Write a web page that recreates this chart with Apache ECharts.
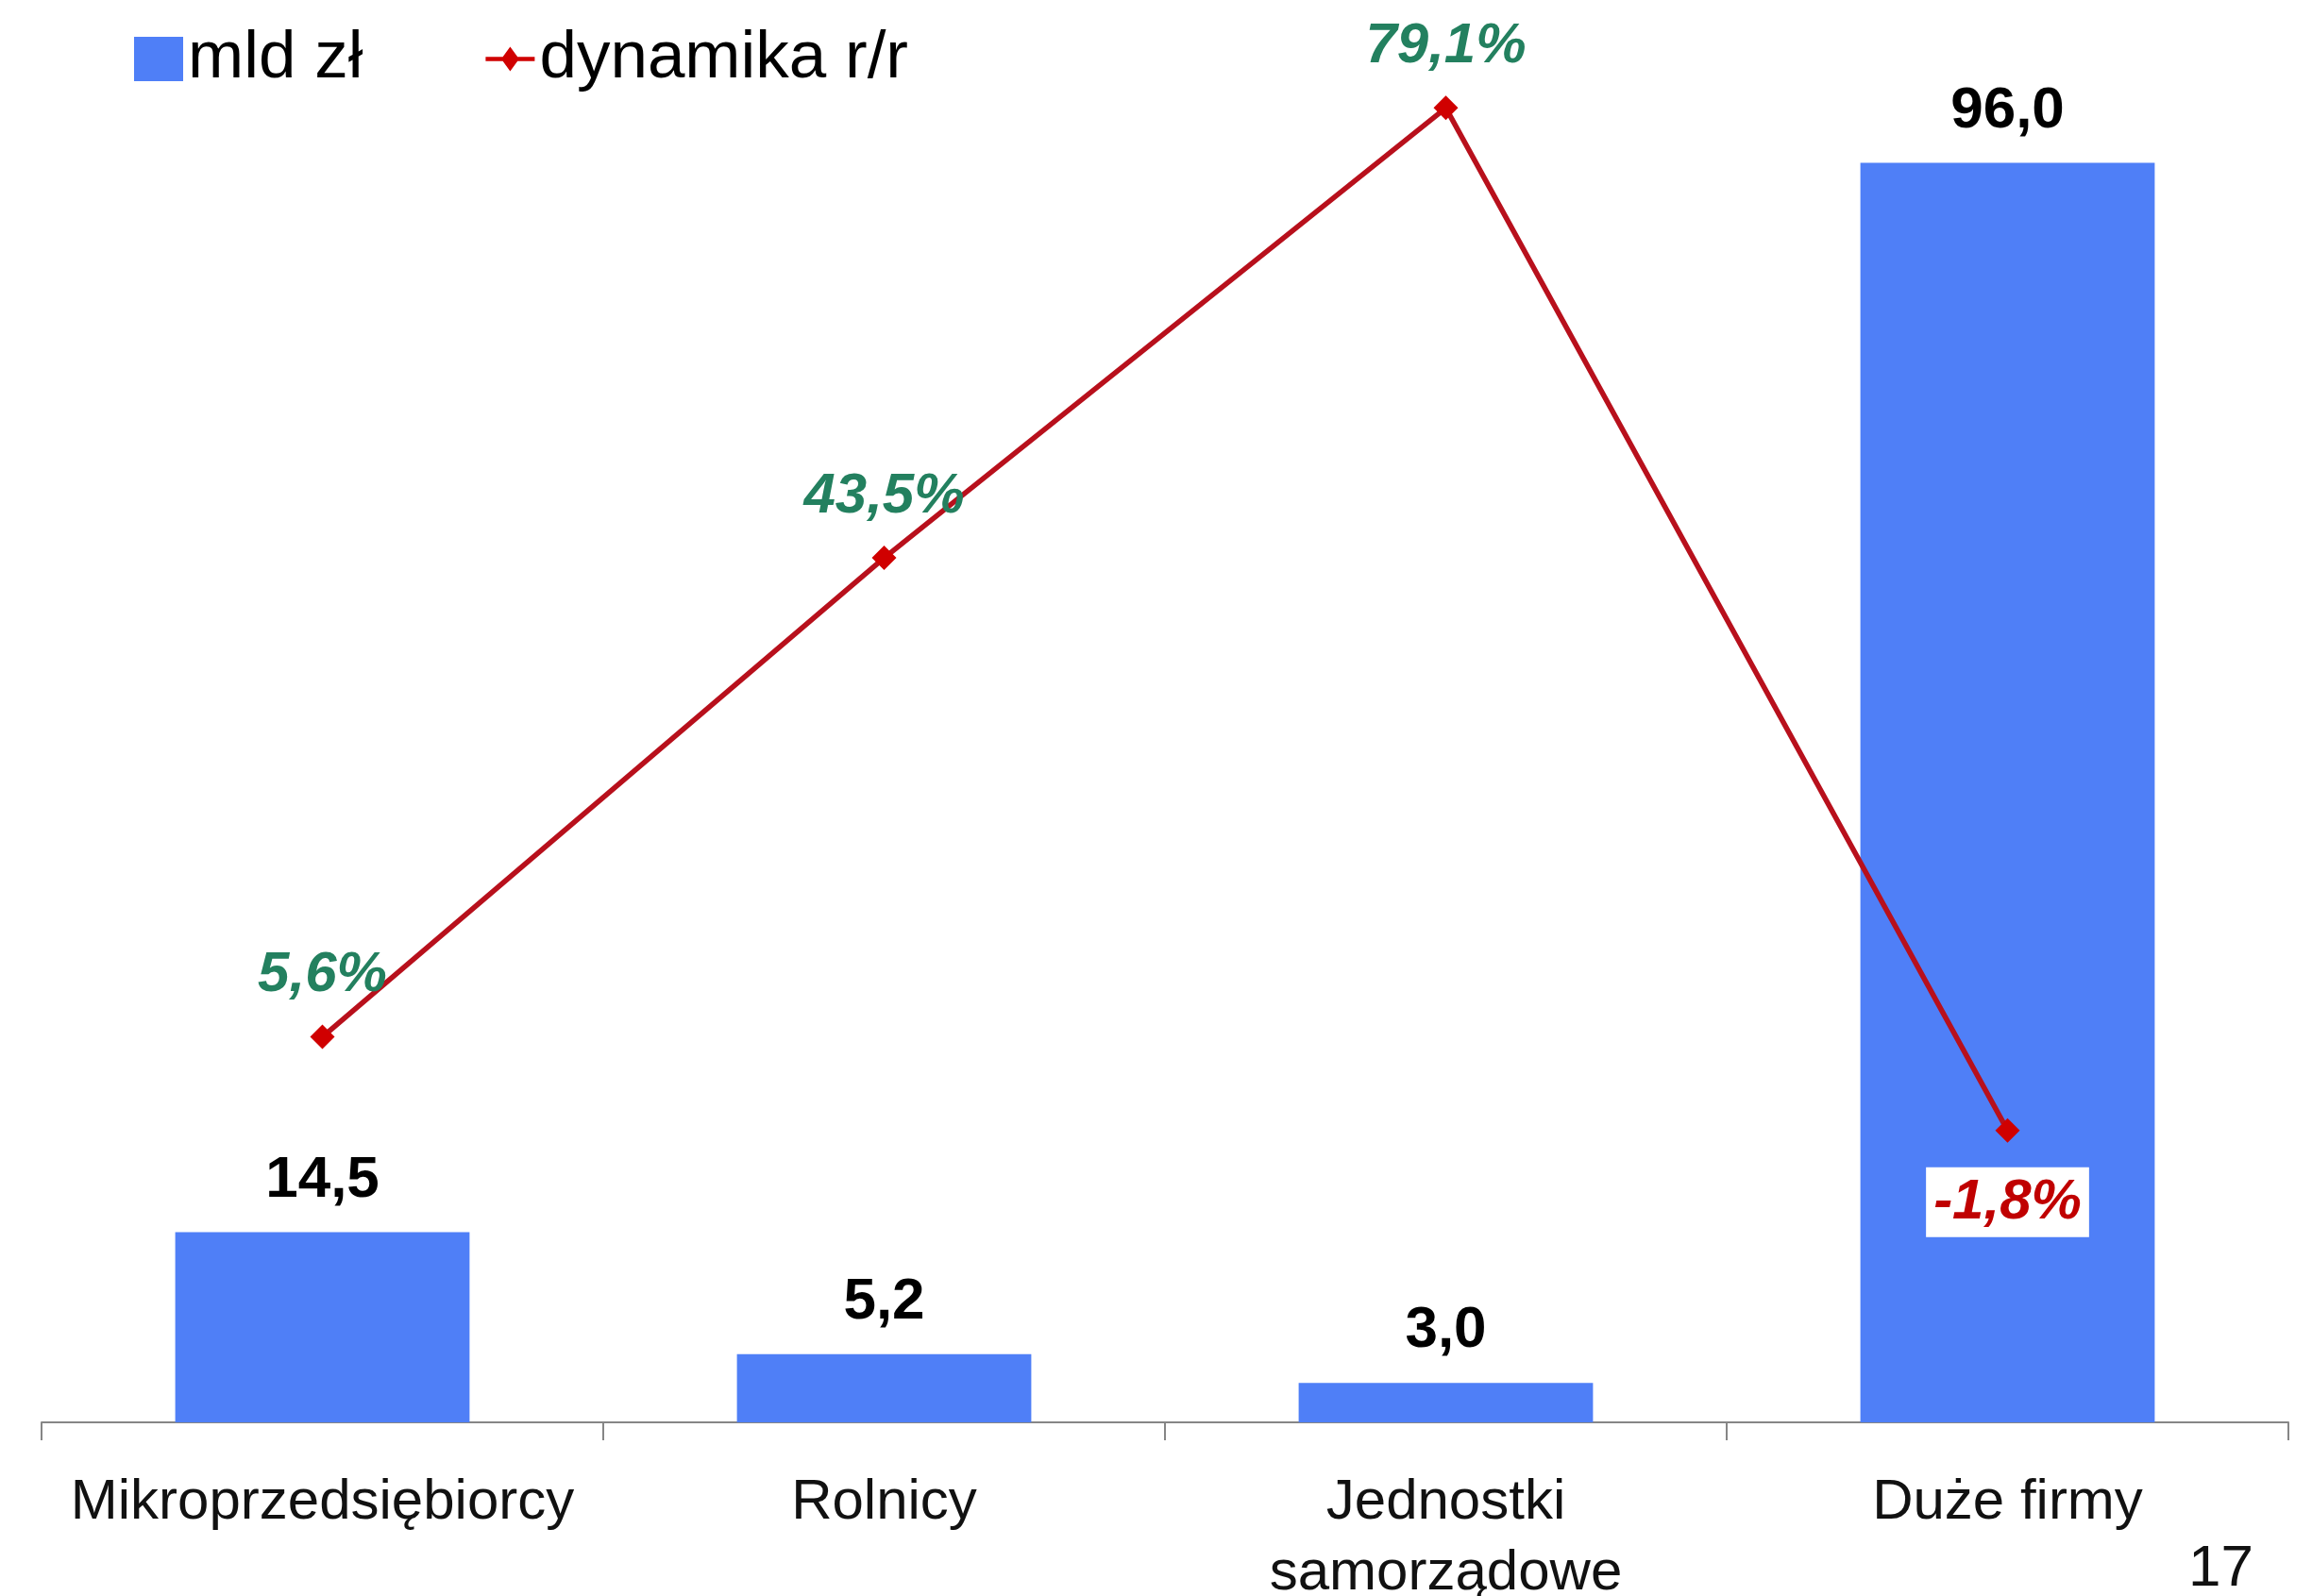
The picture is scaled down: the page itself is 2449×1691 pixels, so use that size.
<!DOCTYPE html>
<html><head><meta charset="utf-8">
<script src="https://cdn.jsdelivr.net/npm/echarts@6/dist/echarts.min.js"></script>
<style>html,body{margin:0;padding:0;background:#fff}#c{width:2449px;height:1691px}</style>
</head><body><div id="c"></div>
<script>
const categories = ['Mikroprzedsiębiorcy', 'Rolnicy', 'Jednostki\nsamorządowe', 'Duże firmy'];
const amountBn = [14.5, 5.2, 3.0, 96.0];
const growthPct = [5.6, 43.5, 79.1, -1.8];
const seriesNames = ['mld zł', 'dynamika r/r'];
const pageNumber = '17';

const FONT = "'Liberation Sans', Arial, sans-serif";
const fmt = v => v.toFixed(1).replace('.', ',');

const lineData = growthPct.map(v => v < 0 ? {
  value: v,
  label: { position: 'bottom', color: '#C00000', backgroundColor: '#ffffff', padding: [8, 8, 6, 8], distance: 26 }
} : v);

const chart = echarts.init(document.getElementById('c'), null, { renderer: 'canvas' });
chart.setOption({
  backgroundColor: '#ffffff',
  animation: false,
  textStyle: { fontFamily: FONT },
  legend: {
    left: 137, top: 22,
    itemWidth: 52, itemHeight: 47, itemGap: 130,
    textStyle: { fontSize: 71, color: '#000', fontFamily: FONT },
    data: [
      { name: seriesNames[0], icon: 'rect' },
      { name: seriesNames[1], icon: 'path://M0,11.5L19.6,11.5L28,0L36.4,11.5L56,11.5L56,16.5L36.4,16.5L28,28L19.6,16.5L0,16.5Z' }
    ]
  },
  grid: { left: 44, right: 25, top: 117, bottom: 184, containLabel: false, outerBoundsMode: 'none' },
  xAxis: {
    type: 'category', data: categories, boundaryGap: true,
    axisLine: { lineStyle: { color: '#868686', width: 2 } },
    axisTick: { show: true, length: 19, lineStyle: { color: '#868686', width: 2 } },
    axisLabel: { interval: 0, margin: 48, fontSize: 60, lineHeight: 75, color: '#111', fontFamily: FONT }
  },
  yAxis: [
    { type: 'value', min: 0, max: 100, show: false, splitLine: { show: false } },
    { type: 'value', min: -24.9, max: 78.9, show: false, splitLine: { show: false } }
  ],
  series: [
    {
      name: seriesNames[0], type: 'bar', data: amountBn, barWidth: '52.4%', yAxisIndex: 0,
      itemStyle: { color: '#4F7FF7' },
      label: { show: true, position: 'top', distance: 24, fontSize: 62, fontWeight: 'bold', color: '#000', fontFamily: FONT, formatter: p => fmt(p.value) }
    },
    {
      name: seriesNames[1], type: 'line', data: lineData, yAxisIndex: 1, clip: false, z: 5,
      symbol: 'diamond', symbolSize: 26,
      lineStyle: { color: '#B8101C', width: 5.5 },
      itemStyle: { color: '#D00000' },
      label: { show: true, position: 'top', distance: 22, fontSize: 60, fontWeight: 'bold', fontStyle: 'italic', color: '#23805F', fontFamily: FONT, formatter: p => fmt(p.value) + '%' }
    }
  ],
  graphic: [
    { type: 'text', right: 62, top: 1632, style: { text: pageNumber, fontSize: 62, fill: '#111', fontFamily: FONT } }
  ]
});
</script></body></html>
